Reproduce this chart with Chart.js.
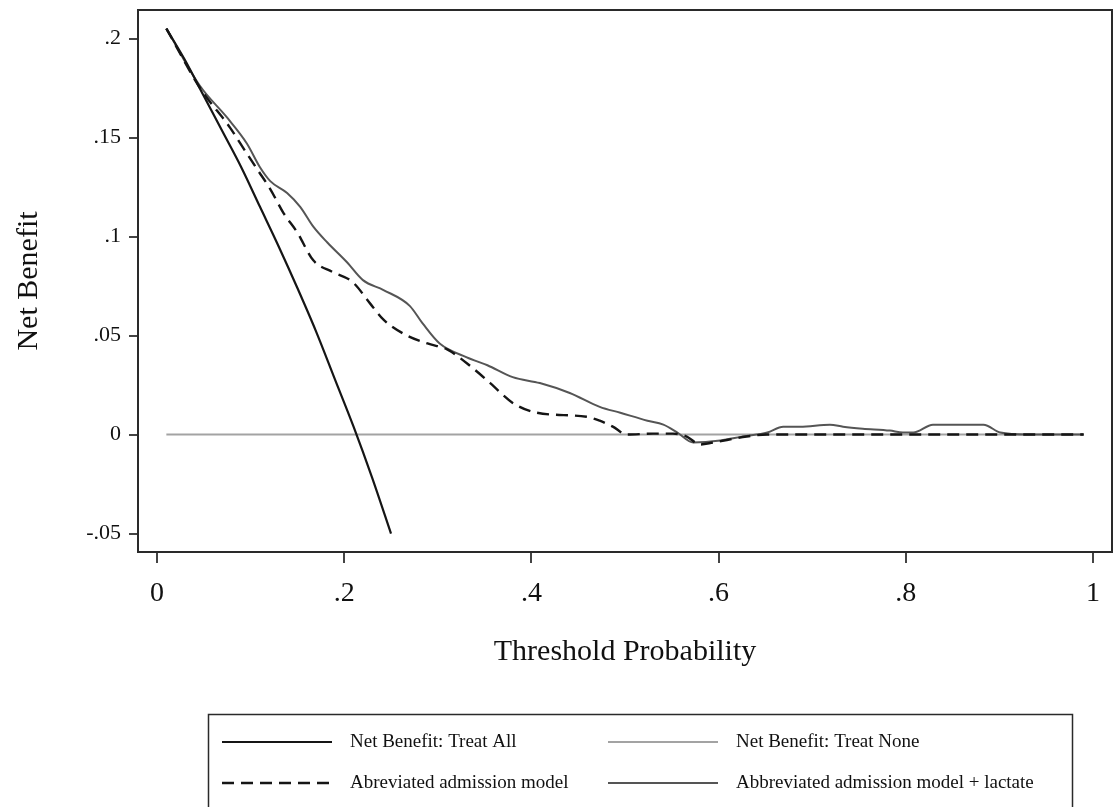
<!DOCTYPE html>
<html>
<head>
<meta charset="utf-8">
<script src="https://cdn.jsdelivr.net/npm/chart.js@4.4.1/dist/chart.umd.min.js"></script>
<style>
    html, body { margin: 0; padding: 0; background: #fff; }
    #chartContainer { width: 1118px; height: 807px; }
</style>
</head>
<body>
<div id="chartContainer"><canvas id="chart"></canvas></div>
<script>
// Werte
let ptTreatAll = [0.01, 0.03, 0.05, 0.07, 0.09, 0.11, 0.13, 0.15, 0.17, 0.19, 0.21, 0.23, 0.25];
let nbTreatAll = [0.205, 0.189, 0.171, 0.153, 0.135, 0.115, 0.095, 0.074, 0.052, 0.028, 0.004, -0.022, -0.050];

let ptTreatNone = [0.01, 0.99];
let nbTreatNone = [0, 0];

let ptAdmission = [0.01, 0.046, 0.078, 0.089, 0.107, 0.121, 0.135, 0.150, 0.167, 0.188, 0.209, 0.228, 0.242,
    0.267, 0.289, 0.310, 0.331, 0.356, 0.380, 0.406, 0.459, 0.473, 0.487, 0.502, 0.530, 0.551, 0.566, 0.580,
    0.594, 0.630, 0.652, 0.99];
let nbAdmission = [0.205, 0.175, 0.155, 0.147, 0.134, 0.124, 0.112, 0.102, 0.088, 0.082, 0.077, 0.066, 0.058,
    0.050, 0.046, 0.043, 0.036, 0.026, 0.016, 0.011, 0.009, 0.007, 0.004, 0.000, 0.0005, 0.0005, -0.001, -0.005,
    -0.004, -0.001, 0, 0];

let ptLactate = [0.01, 0.046, 0.075, 0.096, 0.110, 0.121, 0.139, 0.153, 0.167, 0.182, 0.203, 0.220, 0.242,
    0.270, 0.284, 0.302, 0.331, 0.353, 0.380, 0.409, 0.441, 0.473, 0.495, 0.524, 0.541, 0.556, 0.573, 0.602,
    0.626, 0.652, 0.669, 0.687, 0.719, 0.733, 0.754, 0.783, 0.797, 0.808, 0.829, 0.883, 0.901, 0.93, 0.99];
let nbLactate = [0.205, 0.176, 0.160, 0.147, 0.135, 0.128, 0.122, 0.115, 0.105, 0.097, 0.087, 0.078, 0.073,
    0.065, 0.056, 0.046, 0.039, 0.035, 0.029, 0.026, 0.021, 0.014, 0.011, 0.007, 0.005, 0.001, -0.004, -0.003,
    -0.001, 0.001, 0.004, 0.004, 0.005, 0.004, 0.003, 0.002, 0.001, 0.001, 0.005, 0.005, 0.001, 0, 0];

let xTickValues = [0, 0.2, 0.4, 0.6, 0.8, 1];
let xTickLabels = ['0', '.2', '.4', '.6', '.8', '1'];
let yTickValues = [-0.05, 0, 0.05, 0.1, 0.15, 0.2];
let yTickLabels = ['-.05', '0', '.05', '.1', '.15', '.2'];

const serif = 'Liberation Serif';

function toPoints(xs, ys){
    return xs.map(function (x, i){ return {x: x, y: ys[i]}; });
}

// Rahmen um die Zeichenfläche
const framePlugin = {
    id: 'frame',
    afterDraw(chart){
        const a = chart.chartArea;
        const ctx = chart.ctx;
        ctx.save();
        ctx.strokeStyle = '#2a2a2a';
        ctx.lineWidth = 2;
        ctx.strokeRect(a.left, a.top, a.right - a.left, a.bottom - a.top);
        ctx.restore();
    }
};

// Legende im Kasten unten, zwei Spalten
const legendPlugin = {
    id: 'legendBox',
    afterDraw(chart){
        const ctx = chart.ctx;
        ctx.save();
        ctx.strokeStyle = '#2a2a2a';
        ctx.lineWidth = 1.5;
        ctx.strokeRect(208.5, 714.5, 864, 130);
        const cols = [222, 608];
        const rows = [742, 783];
        chart.data.datasets.forEach(function (ds, i){
            const x = cols[i % 2];
            const y = rows[Math.floor(i / 2)];
            ctx.beginPath();
            ctx.setLineDash(ds.borderDash || []);
            ctx.strokeStyle = ds.borderColor;
            ctx.lineWidth = ds.borderWidth;
            ctx.moveTo(x, y);
            ctx.lineTo(x + 110, y);
            ctx.stroke();
            ctx.setLineDash([]);
            ctx.fillStyle = '#111';
            ctx.font = '19px "' + serif + '"';
            ctx.textBaseline = 'middle';
            ctx.fillText(ds.label, x + 128, y);
        });
        ctx.restore();
    }
};

const data = {
    datasets: [{
        label: 'Net Benefit: Treat All',
        data: toPoints(ptTreatAll, nbTreatAll),
        borderColor: '#151515',
        borderWidth: 2.2,
        cubicInterpolationMode: 'monotone',
        order: 1
    }, {
        label: 'Net Benefit: Treat None',
        data: toPoints(ptTreatNone, nbTreatNone),
        borderColor: '#a3a3a3',
        borderWidth: 2,
        order: 5
    }, {
        label: 'Abreviated admission model',
        data: toPoints(ptAdmission, nbAdmission),
        borderColor: '#151515',
        borderWidth: 2.4,
        borderDash: [12, 7],
        cubicInterpolationMode: 'monotone',
        order: 2
    }, {
        label: 'Abbreviated admission model + lactate',
        data: toPoints(ptLactate, nbLactate),
        borderColor: '#555555',
        borderWidth: 2,
        cubicInterpolationMode: 'monotone',
        order: 3
    }]
};

const config = {
    type: 'line',
    data: data,
    plugins: [framePlugin, legendPlugin],
    options: {
        responsive: true,
        maintainAspectRatio: false,
        animation: false,
        devicePixelRatio: 1,
        elements: { point: { radius: 0 } },
        layout: { padding: { top: 10, right: 6, left: 0, bottom: 125 } },
        plugins: {
            legend: { display: false },
            tooltip: { enabled: false }
        },
        scales: {
            x: {
                type: 'linear',
                min: -0.0203,
                max: 1.0203,
                afterFit: function (scale){ scale.height = 130; },
                afterBuildTicks: function (scale){
                    scale.ticks = xTickValues.map(function (v){ return {value: v}; });
                },
                ticks: {
                    callback: function (v){ return xTickLabels[xTickValues.indexOf(v)]; },
                    font: { family: serif, size: 28 },
                    color: '#111',
                    padding: 14,
                    maxRotation: 0
                },
                grid: { drawOnChartArea: false, drawTicks: true, tickLength: 11, color: '#444', lineWidth: 2 },
                border: { display: false },
                title: {
                    display: true,
                    text: 'Threshold Probability',
                    font: { family: serif, size: 30 },
                    color: '#111',
                    padding: { top: 0, bottom: 12 }
                }
            },
            y: {
                type: 'linear',
                min: -0.0593,
                max: 0.2144,
                afterFit: function (scale){
                    scale.width = 138;
                    scale.paddingTop = 0;
                    scale.paddingBottom = 0;
                },
                afterBuildTicks: function (scale){
                    scale.ticks = yTickValues.map(function (v){ return {value: v}; });
                },
                ticks: {
                    callback: function (v){ return yTickLabels[yTickValues.indexOf(v)]; },
                    font: { family: serif, size: 22 },
                    color: '#111',
                    padding: 8
                },
                grid: { drawOnChartArea: false, drawTicks: true, tickLength: 9, color: '#444', lineWidth: 2 },
                border: { display: false },
                title: {
                    display: true,
                    text: 'Net Benefit',
                    font: { family: serif, size: 30 },
                    color: '#111',
                    padding: { top: 11, bottom: 0 }
                }
            }
        }
    }
};

let chart = new Chart(document.getElementById('chart'), config);
</script>
</body>
</html>
